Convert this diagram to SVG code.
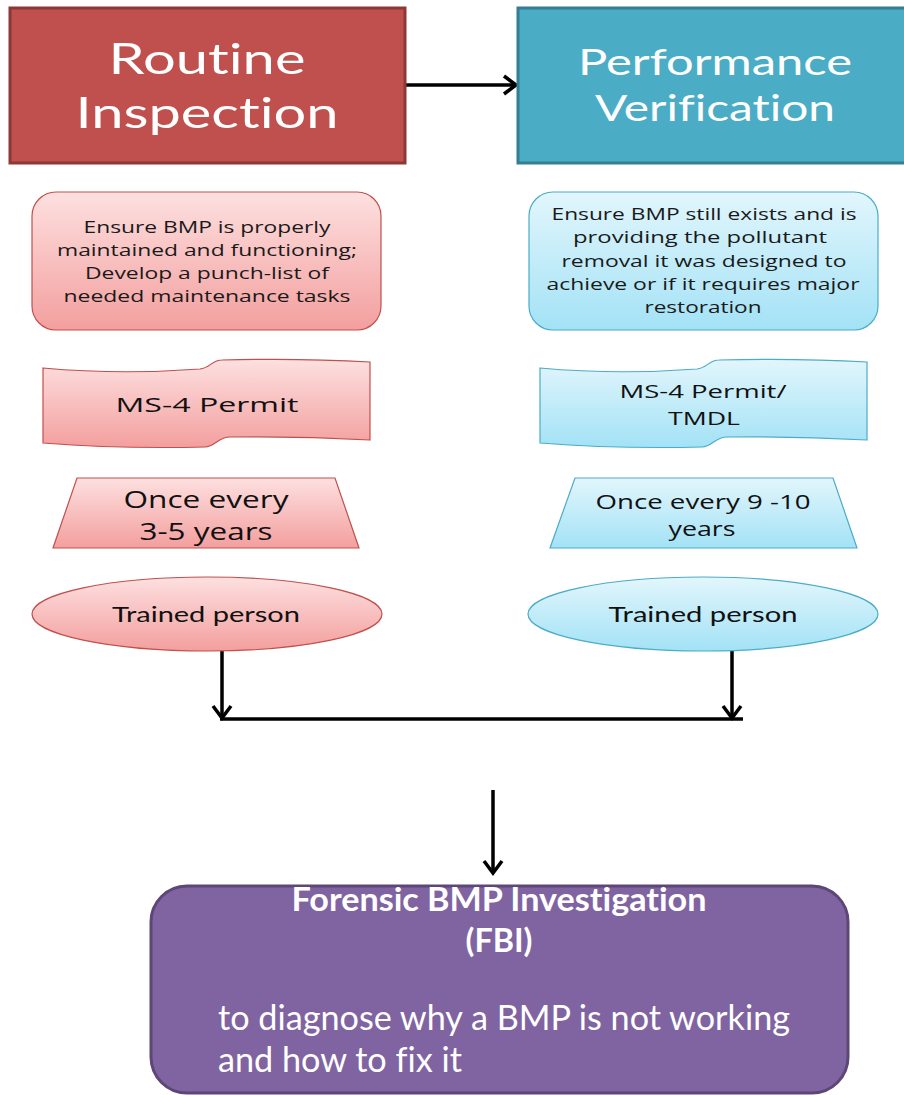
<svg xmlns="http://www.w3.org/2000/svg" width="904" height="1095" viewBox="0 0 904 1095">
<style>
text{font-variant-ligatures:none;font-feature-settings:"liga" 0}
.title{font-family:Lato,"Open Sans","Liberation Sans",sans-serif;font-size:42px;fill:#ffffff;text-anchor:middle}
.title2{font-family:Lato,"Open Sans","Liberation Sans",sans-serif;font-size:37px;fill:#ffffff;text-anchor:middle}
.small{font-family:"Open Sans","DejaVu Sans",sans-serif;font-size:16.5px;fill:#1a1a1a;text-anchor:middle}
.mid{font-family:"Open Sans","DejaVu Sans",sans-serif;fill:#111;text-anchor:middle}
.ell{font-family:Lato,"Liberation Sans",sans-serif;font-size:21px;fill:#111;text-anchor:middle}
.pinkshape{fill:url(#pinkGrad);stroke:#c0504d;stroke-width:1.2}
.blueshape{fill:url(#blueGrad);stroke:#4bacc6;stroke-width:1.2}
.conn{fill:none;stroke:#000;stroke-width:3.5}
.fbiT{font-family:Lato,"Liberation Sans",sans-serif;font-weight:bold;font-size:32px;fill:#fff;text-anchor:middle}
.fbiB{font-family:Lato,"Liberation Sans",sans-serif;font-size:34px;fill:#fff}
</style>
<defs>
<linearGradient id="pinkGrad" x1="0" y1="0" x2="0" y2="1">
<stop offset="0" stop-color="#fde0e0"/>
<stop offset="1" stop-color="#f39f9e"/>
</linearGradient>
<linearGradient id="blueGrad" x1="0" y1="0" x2="0" y2="1">
<stop offset="0" stop-color="#e2f6fc"/>
<stop offset="1" stop-color="#a3e2f6"/>
</linearGradient>
<marker id="arr" markerUnits="userSpaceOnUse" markerWidth="24" markerHeight="24" viewBox="0 0 24 24" refX="21" refY="12" orient="auto">
<path d="M9,3 L21,12 L9,21" fill="none" stroke="#000" stroke-width="3.5"/>
</marker>
</defs>

<g id="connectors">
<line class="conn" x1="405" y1="85" x2="516" y2="85" marker-end="url(#arr)"/>
<line class="conn" x1="222" y1="651" x2="222" y2="718" marker-end="url(#arr)"/>
<line class="conn" x1="732" y1="651" x2="732" y2="718" marker-end="url(#arr)"/>
<line class="conn" x1="220" y1="719" x2="743" y2="719"/>
<line class="conn" x1="493" y1="790" x2="493" y2="873" marker-end="url(#arr)"/>
</g>

<g id="routine-inspection">
<rect x="10" y="8" width="395" height="155" fill="#c0504d" stroke="#8c3836" stroke-width="3"/>
<text class="title" x="207" y="74" textLength="197" lengthAdjust="spacingAndGlyphs">Routine</text>
<text class="title" x="207" y="128" textLength="263" lengthAdjust="spacingAndGlyphs">Inspection</text>
</g>

<g id="performance-verification">
<rect x="518" y="8" width="388" height="155" fill="#4bacc6" stroke="#357d91" stroke-width="3"/>
<text class="title2" x="715" y="75" textLength="274" lengthAdjust="spacingAndGlyphs">Performance</text>
<text class="title2" x="715" y="121" textLength="240" lengthAdjust="spacingAndGlyphs">Verification</text>
</g>

<g id="ri-purpose">
<rect class="pinkshape" x="32" y="192" width="349" height="138" rx="24"/>
<text class="small" x="207" y="233" textLength="247" lengthAdjust="spacingAndGlyphs">Ensure BMP is properly</text>
<text class="small" x="207" y="256" textLength="300" lengthAdjust="spacingAndGlyphs">maintained and functioning;</text>
<text class="small" x="207" y="279" textLength="244" lengthAdjust="spacingAndGlyphs">Develop a punch-list of</text>
<text class="small" x="207" y="302" textLength="287" lengthAdjust="spacingAndGlyphs">needed maintenance tasks</text>
</g>

<g id="pv-purpose">
<rect class="blueshape" x="529" y="192" width="349" height="138" rx="24"/>
<text class="small" x="704" y="220" textLength="305" lengthAdjust="spacingAndGlyphs">Ensure BMP still exists and is</text>
<text class="small" x="700" y="243" textLength="254" lengthAdjust="spacingAndGlyphs">providing the pollutant</text>
<text class="small" x="704" y="267" textLength="285" lengthAdjust="spacingAndGlyphs">removal it was designed to</text>
<text class="small" x="703" y="290" textLength="313" lengthAdjust="spacingAndGlyphs">achieve or if it requires major</text>
<text class="small" x="703" y="313" textLength="117" lengthAdjust="spacingAndGlyphs">restoration</text>
</g>

<g id="ri-permit">
<path class="pinkshape" d="M43,368 Q120,375 200,369 C210,368 212,360 222,360 Q300,358 370,362 L370,440 Q300,436 230,437 C218,437 215,447 205,447 Q120,449 43,443 Z"/>
<text class="mid" x="207" y="412" font-size="20" textLength="183" lengthAdjust="spacingAndGlyphs">MS-4 Permit</text>
</g>

<g id="pv-permit">
<path class="blueshape" transform="translate(497,0)" d="M43,368 Q120,375 200,369 C210,368 212,360 222,360 Q300,358 370,362 L370,440 Q300,436 230,437 C218,437 215,447 205,447 Q120,449 43,443 Z"/>
<text class="mid" x="703" y="398" font-size="19" textLength="167" lengthAdjust="spacingAndGlyphs">MS-4 Permit/</text>
<text class="mid" x="704" y="425" font-size="19" textLength="72" lengthAdjust="spacingAndGlyphs">TMDL</text>
</g>

<g id="ri-frequency">
<polygon class="pinkshape" points="77,478 335,478 359,548 53,548"/>
<text class="mid" x="206" y="508" font-size="23" textLength="165" lengthAdjust="spacingAndGlyphs">Once every</text>
<text class="mid" x="206" y="540" font-size="23" textLength="133" lengthAdjust="spacingAndGlyphs">3-5 years</text>
</g>

<g id="pv-frequency">
<polygon class="blueshape" points="575,478 833,478 857,548 550,548"/>
<text class="mid" x="703" y="509" font-size="20" textLength="215" lengthAdjust="spacingAndGlyphs">Once every 9 -10</text>
<text class="mid" x="702" y="536" font-size="20" textLength="67" lengthAdjust="spacingAndGlyphs">years</text>
</g>

<g id="ri-who">
<ellipse class="pinkshape" cx="207" cy="614" rx="175" ry="37"/>
<text class="ell" x="206" y="622" textLength="188" lengthAdjust="spacingAndGlyphs">Trained person</text>
</g>

<g id="pv-who">
<ellipse class="blueshape" cx="703" cy="614" rx="175" ry="37"/>
<text class="ell" x="703" y="622" textLength="189" lengthAdjust="spacingAndGlyphs">Trained person</text>
</g>

<g id="fbi">
<rect x="151" y="886" width="697" height="207" rx="36" fill="#8064a2" stroke="#5c4776" stroke-width="3"/>
<text class="fbiT" x="499" y="911" textLength="415" lengthAdjust="spacingAndGlyphs">Forensic BMP Investigation</text>
<text class="fbiT" x="499" y="952" textLength="67" lengthAdjust="spacingAndGlyphs">(FBI)</text>
<text class="fbiB" x="218" y="1030" textLength="572" lengthAdjust="spacingAndGlyphs">to diagnose why a BMP is not working</text>
<text class="fbiB" x="218" y="1072" textLength="244" lengthAdjust="spacingAndGlyphs">and how to fix it</text>
</g>
</svg>
